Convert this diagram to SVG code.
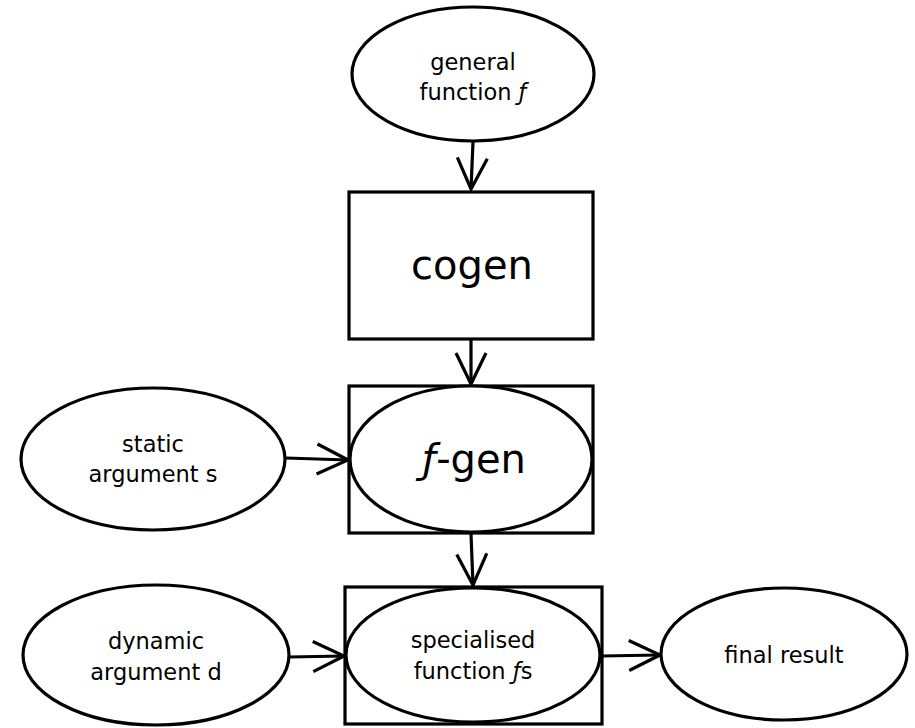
<svg xmlns="http://www.w3.org/2000/svg" width="915" height="728" viewBox="0 0 915 728">
<style>
.s{fill:#fff;stroke:#000;stroke-width:3.2}
.t{font-family:"DejaVu Sans",sans-serif;font-size:22.5px;text-anchor:middle;fill:#000}
.b{font-family:"DejaVu Sans",sans-serif;font-size:40px;text-anchor:middle;fill:#000}
.i{font-style:italic}
.c{fill:none;stroke:#000;stroke-width:3.2}
</style>
<defs>
<marker id="a" markerUnits="userSpaceOnUse" markerWidth="40" markerHeight="40" refX="0" refY="0" viewBox="-33 -20 40 40" orient="auto" overflow="visible">
<path d="M-31,-15 L0,0 L-31,15" fill="none" stroke="#000" stroke-width="3.2"/>
</marker>
</defs>
<g id="connectors">
<line class="c" x1="473" y1="142" x2="471" y2="189" marker-end="url(#a)"/>
<line class="c" x1="471" y1="340" x2="471" y2="384" marker-end="url(#a)"/>
<line class="c" x1="286" y1="458" x2="348" y2="460" marker-end="url(#a)"/>
<line class="c" x1="471" y1="534" x2="473" y2="585" marker-end="url(#a)"/>
<line class="c" x1="289" y1="657" x2="344" y2="656" marker-end="url(#a)"/>
<line class="c" x1="602" y1="656" x2="660" y2="655" marker-end="url(#a)"/>
</g>
<g id="general">
<ellipse class="s" cx="473" cy="74" rx="121" ry="67"/>
<text class="t" x="473" y="70">general</text>
<text class="t" x="473" y="100">function <tspan class="i">ƒ</tspan></text>
</g>
<g id="cogen">
<rect class="s" x="349" y="192" width="244" height="147"/>
<text class="b" x="472" y="279">cogen</text>
</g>
<g id="fgen">
<rect class="s" x="349" y="386" width="244" height="147"/>
<ellipse class="s" cx="471" cy="459" rx="121" ry="73"/>
<text class="b" x="474" y="473"><tspan class="i">ƒ</tspan>-gen</text>
</g>
<g id="static">
<ellipse class="s" cx="153" cy="459" rx="132" ry="71"/>
<text class="t" x="153" y="452">static</text>
<text class="t" x="153" y="482">argument s</text>
</g>
<g id="specialised">
<rect class="s" x="345" y="587" width="257" height="137"/>
<ellipse class="s" cx="473" cy="655" rx="127" ry="67"/>
<text class="t" x="473" y="648">specialised</text>
<text class="t" x="473" y="679">function <tspan class="i">ƒ</tspan>s</text>
</g>
<g id="dynamic">
<ellipse class="s" cx="156" cy="655" rx="133" ry="70"/>
<text class="t" x="156" y="649">dynamic</text>
<text class="t" x="156" y="680">argument d</text>
</g>
<g id="final">
<ellipse class="s" cx="784" cy="654" rx="123" ry="66"/>
<text class="t" x="784" y="663">final result</text>
</g>
</svg>
